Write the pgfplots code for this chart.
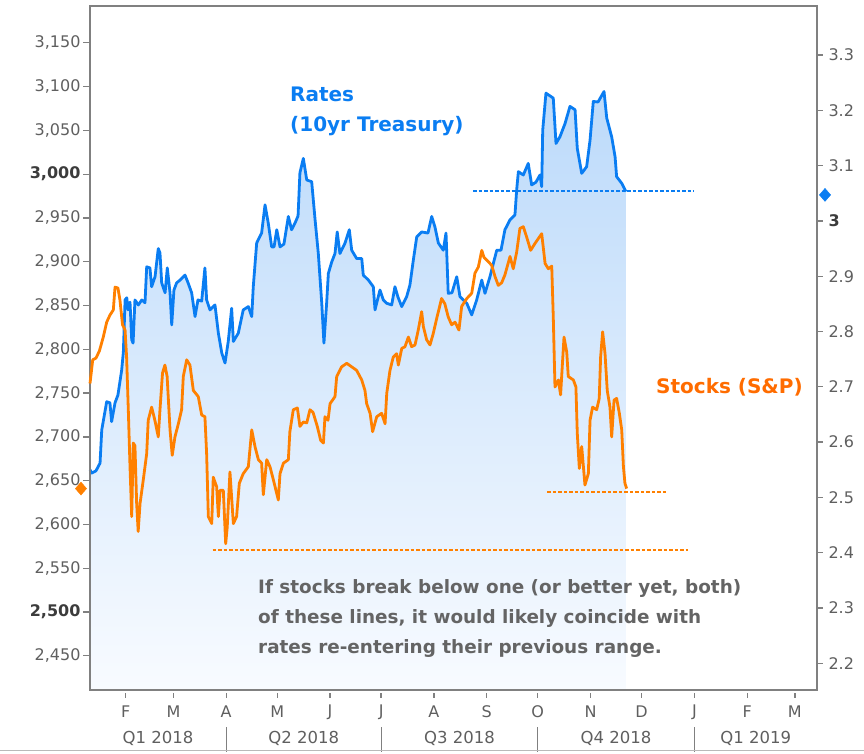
\documentclass[border=0pt]{standalone}
\usepackage{pgfplots}
\pgfplotsset{compat=1.18}
\usepackage{pgfplotstable}
\usepackage{fontspec}
\setmainfont{DejaVu Sans}
\definecolor{rblue}{RGB}{10,125,242}
\definecolor{sorange}{RGB}{255,128,0}
\definecolor{lorange}{RGB}{255,108,0}
\definecolor{axgray}{RGB}{128,128,128}
\definecolor{tickgray}{RGB}{95,95,95}
\definecolor{boldgray}{RGB}{60,60,60}
\definecolor{txtgray}{RGB}{100,100,100}
\definecolor{filltop}{RGB}{188,218,250}
\definecolor{fillbot}{RGB}{248,251,255}

\pgfplotstableread{
d r
10.0 2.550
11.0 2.544
13.5 2.548
15.9 2.562
16.9 2.622
19.8 2.673
21.7 2.671
22.7 2.637
24.7 2.671
26.4 2.685
28.6 2.730
29.6 2.763
30.6 2.857
31.6 2.861
32.3 2.839
33.5 2.853
34.5 2.785
35.3 2.779
36.4 2.857
38.4 2.848
40.4 2.857
42.3 2.852
43.3 2.917
45.2 2.915
46.2 2.881
48.2 2.899
50.1 2.950
51.1 2.942
52.1 2.888
54.1 2.870
55.4 2.915
57.0 2.870
58.0 2.812
59.3 2.875
60.9 2.888
62.9 2.893
65.8 2.902
67.6 2.888
69.7 2.870
71.7 2.827
73.4 2.857
75.6 2.855
77.5 2.915
78.5 2.857
80.5 2.839
83.4 2.848
85.4 2.797
87.4 2.761
89.3 2.743
91.2 2.782
93.2 2.842
94.2 2.782
97.1 2.797
100.0 2.839
103.0 2.845
105.0 2.827
105.9 2.881
107.9 2.960
110.8 2.978
112.8 3.029
114.7 2.996
116.7 2.953
118.1 2.953
119.7 2.984
121.6 2.953
123.9 2.958
126.5 3.008
128.4 2.984
130.4 2.996
132.2 3.009
133.3 3.087
135.3 3.113
137.3 3.074
140.2 3.071
142.2 3.002
144.1 2.941
146.1 2.852
147.4 2.779
149.0 2.852
150.0 2.905
152.0 2.926
153.9 2.941
155.2 2.980
156.8 2.941
159.8 2.960
162.3 2.984
163.7 2.947
166.6 2.932
169.6 2.932
170.5 2.902
173.5 2.893
176.4 2.881
177.4 2.839
180.3 2.875
182.3 2.857
184.3 2.851
187.2 2.848
189.1 2.881
190.9 2.862
193.1 2.845
196.0 2.863
197.9 2.884
199.9 2.929
201.9 2.971
204.8 2.980
208.5 2.978
210.7 3.008
212.6 2.989
214.6 2.960
217.5 2.947
219.1 2.978
220.4 2.869
222.6 2.870
225.4 2.899
227.3 2.863
231.3 2.851
234.2 2.830
237.1 2.857
240.1 2.893
242.0 2.869
244.9 2.899
248.9 2.947
251.4 2.947
253.7 2.984
256.7 3.002
259.6 3.011
260.6 3.056
261.6 3.089
264.5 3.083
267.4 3.104
269.4 3.065
271.9 3.070
274.3 3.083
275.3 3.062
275.9 3.164
277.8 3.231
280.2 3.226
282.1 3.222
283.7 3.140
286.0 3.152
289.0 3.176
291.9 3.207
294.9 3.201
296.2 3.131
298.8 3.086
301.7 3.098
303.7 3.146
305.6 3.216
308.4 3.215
311.9 3.234
313.5 3.186
316.4 3.152
318.4 3.116
319.3 3.080
322.3 3.068
324.8 3.053
}\rates

\pgfplotstableread{
d s
10.0 2761
11.6 2788
13.5 2790
15.5 2798
17.8 2814
19.8 2831
21.7 2839
23.7 2845
24.7 2871
26.4 2870
27.6 2856
29.1 2828
30.6 2822
31.5 2791
32.5 2731
33.5 2666
34.5 2609
35.4 2693
36.4 2690
37.4 2624
38.3 2592
39.4 2624
41.3 2651
43.3 2681
44.2 2719
46.2 2734
48.1 2719
50.1 2700
51.1 2731
52.6 2773
54.0 2782
55.3 2769
57.0 2708
58.3 2679
59.9 2700
61.9 2715
63.8 2731
64.8 2769
66.8 2788
68.7 2782
70.7 2753
73.6 2746
75.6 2725
77.5 2723
78.5 2681
79.5 2609
81.5 2601
82.4 2654
84.4 2643
85.4 2609
86.4 2639
88.3 2639
89.7 2578
90.6 2597
92.2 2660
94.2 2601
96.1 2609
97.7 2647
100.0 2658
103.0 2666
105.0 2708
106.9 2689
108.9 2674
110.8 2670
111.8 2634
113.8 2674
115.7 2666
117.7 2651
120.6 2628
121.6 2658
123.6 2670
126.5 2674
127.4 2706
129.4 2731
131.8 2733
133.3 2712
135.3 2717
137.3 2716
139.2 2731
141.0 2728
143.5 2712
145.5 2696
147.1 2693
148.0 2723
149.8 2719
151.0 2738
153.9 2746
154.9 2769
157.8 2780
160.8 2784
163.7 2780
166.6 2776
169.6 2765
171.5 2753
172.5 2738
174.5 2727
176.0 2706
178.4 2723
181.3 2727
183.3 2715
184.3 2750
186.2 2776
188.1 2791
190.1 2795
191.1 2782
193.1 2801
195.0 2803
197.0 2814
198.9 2803
200.9 2805
202.8 2822
204.8 2843
205.8 2826
207.7 2811
209.7 2805
211.6 2818
213.6 2835
216.5 2858
218.4 2852
220.4 2837
222.4 2828
224.4 2831
226.7 2822
228.3 2849
231.3 2858
234.2 2864
236.1 2887
238.1 2894
240.1 2913
241.4 2905
243.0 2902
245.9 2896
247.9 2883
249.8 2873
251.8 2876
253.7 2885
256.7 2906
258.6 2892
260.6 2911
262.5 2938
264.5 2940
266.5 2928
268.8 2913
271.4 2921
275.3 2932
277.3 2898
279.2 2892
281.2 2895
282.1 2837
283.1 2757
285.1 2765
286.4 2748
288.4 2814
290.0 2797
290.9 2769
293.9 2765
295.4 2757
296.2 2704
297.4 2664
298.8 2689
300.7 2645
302.7 2658
303.7 2719
305.2 2734
307.6 2731
309.1 2744
309.9 2791
311.1 2820
312.5 2795
313.8 2753
315.4 2734
316.4 2700
317.8 2742
319.3 2744
320.9 2727
322.3 2708
323.3 2666
324.2 2647
325.2 2641
}\stocks

\tikzset{
  yl/.style={axgray, line width=1.3pt},
}
\begin{document}
\begin{tikzpicture}
\pgfplotsset{common/.style={
  scale only axis, width=727pt, height=684pt,
  xmin=10, xmax=437, at={(0,0)}, anchor=south west, clip=false,
  axis line style={axgray, line width=1.5pt},
  major tick length=0pt,
  tick label style={font=\fontsize{16}{19}\selectfont, text=tickgray},
  /pgf/number format/assume math mode=true,
}}
% ---- rates (right axis)
\begin{axis}[common,
  ymin=2.1517, ymax=3.3886,
  axis x line=none, axis y line*=right,
  ytick={2.2,2.3,2.4,2.5,2.6,2.7,2.8,2.9,3,3.1,3.2,3.3},
  yticklabels={2.2,2.3,2.4,2.5,2.6,2.7,2.8,2.9,\textcolor{boldgray}{\textbf{3}},3.1,3.2,3.3},
  yticklabel style={anchor=west, xshift=8pt},
]
\addplot[draw=none, top color=filltop, bottom color=fillbot] table[x=d,y=r]{\rates} |- (rel axis cs:0,0) -- cycle;
\addplot[rblue, line width=2.8pt, line join=round] table[x=d,y=r]{\rates};
\addplot[rblue, line width=1.3pt, dash pattern=on 3.5pt off 2pt] coordinates {(235,3.054) (365,3.054)};
\addplot[only marks, mark=diamond*, mark size=6.5pt, mark options={solid, xscale=1.15}, rblue] coordinates {(441.7,3.047)};
\draw[yl] (axis cs:437,2.2) -- (axis cs:440.5,2.2);
\draw[yl] (axis cs:437,2.3) -- (axis cs:440.5,2.3);
\draw[yl] (axis cs:437,2.4) -- (axis cs:440.5,2.4);
\draw[yl] (axis cs:437,2.5) -- (axis cs:440.5,2.5);
\draw[yl] (axis cs:437,2.6) -- (axis cs:440.5,2.6);
\draw[yl] (axis cs:437,2.7) -- (axis cs:440.5,2.7);
\draw[yl] (axis cs:437,2.8) -- (axis cs:440.5,2.8);
\draw[yl] (axis cs:437,2.9) -- (axis cs:440.5,2.9);
\draw[yl] (axis cs:437,3.0) -- (axis cs:440.5,3.0);
\draw[yl] (axis cs:437,3.1) -- (axis cs:440.5,3.1);
\draw[yl] (axis cs:437,3.2) -- (axis cs:440.5,3.2);
\draw[yl] (axis cs:437,3.3) -- (axis cs:440.5,3.3);
\end{axis}
% ---- stocks (left axis)
\begin{axis}[common,
  ymin=2411, ymax=3192,
  ytick pos=left, xtick pos=left,
  ytick={2450,2500,2550,2600,2650,2700,2750,2800,2850,2900,2950,3000,3050,3100,3150},
  yticklabels={{2,450},{\textcolor{boldgray}{\textbf{2,500}}},{2,550},{2,600},{2,650},{2,700},{2,750},{2,800},{2,850},{2,900},{2,950},{\textcolor{boldgray}{\textbf{3,000}}},{3,050},{3,100},{3,150}},
  xtick={31,59,90,120,151,181,212,243,273,304,334,365,396,424},
  xticklabels={F,M,A,M,J,J,A,S,O,N,D,J,F,M},
  yticklabel style={anchor=east, xshift=-6pt},
  xticklabel style={anchor=center, yshift=-22pt},
]
\addplot[sorange, line width=2.8pt, line join=round] table[x=d,y=s]{\stocks};
\addplot[sorange, line width=1.3pt, dash pattern=on 3.5pt off 2pt] coordinates {(278.6,2637) (348.7,2637)};
\addplot[sorange, line width=1.3pt, dash pattern=on 3.5pt off 2pt] coordinates {(82,2571) (361.5,2571)};
\addplot[only marks, mark=diamond*, mark size=6.5pt, mark options={solid, xscale=1.15}, sorange] coordinates {(4.7,2641)};
\draw[yl] (axis cs:5.9,2450) -- (axis cs:10,2450);
\draw[yl] (axis cs:5.9,2500) -- (axis cs:10,2500);
\draw[yl] (axis cs:5.9,2550) -- (axis cs:10,2550);
\draw[yl] (axis cs:5.9,2600) -- (axis cs:10,2600);
\draw[yl] (axis cs:5.9,2650) -- (axis cs:10,2650);
\draw[yl] (axis cs:5.9,2700) -- (axis cs:10,2700);
\draw[yl] (axis cs:5.9,2750) -- (axis cs:10,2750);
\draw[yl] (axis cs:5.9,2800) -- (axis cs:10,2800);
\draw[yl] (axis cs:5.9,2850) -- (axis cs:10,2850);
\draw[yl] (axis cs:5.9,2900) -- (axis cs:10,2900);
\draw[yl] (axis cs:5.9,2950) -- (axis cs:10,2950);
\draw[yl] (axis cs:5.9,3000) -- (axis cs:10,3000);
\draw[yl] (axis cs:5.9,3050) -- (axis cs:10,3050);
\draw[yl] (axis cs:5.9,3100) -- (axis cs:10,3100);
\draw[yl] (axis cs:5.9,3150) -- (axis cs:10,3150);
\draw[yl] (axis cs:31,2411) ++(0pt,-3pt) -- ++(0pt,-5pt);
\draw[yl] (axis cs:59,2411) ++(0pt,-3pt) -- ++(0pt,-5pt);
\draw[yl] (axis cs:90,2411) ++(0pt,-3pt) -- ++(0pt,-5pt);
\draw[yl] (axis cs:120,2411) ++(0pt,-3pt) -- ++(0pt,-5pt);
\draw[yl] (axis cs:151,2411) ++(0pt,-3pt) -- ++(0pt,-5pt);
\draw[yl] (axis cs:181,2411) ++(0pt,-3pt) -- ++(0pt,-5pt);
\draw[yl] (axis cs:212,2411) ++(0pt,-3pt) -- ++(0pt,-5pt);
\draw[yl] (axis cs:243,2411) ++(0pt,-3pt) -- ++(0pt,-5pt);
\draw[yl] (axis cs:273,2411) ++(0pt,-3pt) -- ++(0pt,-5pt);
\draw[yl] (axis cs:304,2411) ++(0pt,-3pt) -- ++(0pt,-5pt);
\draw[yl] (axis cs:334,2411) ++(0pt,-3pt) -- ++(0pt,-5pt);
\draw[yl] (axis cs:365,2411) ++(0pt,-3pt) -- ++(0pt,-5pt);
\draw[yl] (axis cs:396,2411) ++(0pt,-3pt) -- ++(0pt,-5pt);
\draw[yl] (axis cs:424,2411) ++(0pt,-3pt) -- ++(0pt,-5pt);
\draw[axgray, line width=1pt] (axis cs:90,2411) ++(0pt,-37pt) -- ++(0pt,-25pt);
\draw[axgray, line width=1pt] (axis cs:181,2411) ++(0pt,-37pt) -- ++(0pt,-25pt);
\draw[axgray, line width=1pt] (axis cs:273,2411) ++(0pt,-37pt) -- ++(0pt,-25pt);
\draw[axgray, line width=1pt] (axis cs:365,2411) ++(0pt,-37pt) -- ++(0pt,-25pt);
\node[font=\fontsize{16.5}{19}\selectfont, text=tickgray, yshift=-48pt] at (axis cs:50,2411) {Q1 2018};
\node[font=\fontsize{16.5}{19}\selectfont, text=tickgray, yshift=-48pt] at (axis cs:135.5,2411) {Q2 2018};
\node[font=\fontsize{16.5}{19}\selectfont, text=tickgray, yshift=-48pt] at (axis cs:227,2411) {Q3 2018};
\node[font=\fontsize{16.5}{19}\selectfont, text=tickgray, yshift=-48pt] at (axis cs:319,2411) {Q4 2018};
\node[font=\fontsize{16.5}{19}\selectfont, text=tickgray, yshift=-48pt] at (axis cs:401,2411) {Q1 2019};
\end{axis}
\draw[gray!55, line width=1pt] (-90pt,-60pt) -- (774pt,-60pt);
\node[anchor=base west, font=\fontsize{20}{24}\selectfont\bfseries, text=rblue, inner sep=0pt] at (200pt,588pt) {Rates};
\node[anchor=base west, font=\fontsize{20}{24}\selectfont\bfseries, text=rblue, inner sep=0pt] at (200pt,558pt) {(10yr Treasury)};
\node[anchor=base west, font=\fontsize{20}{24}\selectfont\bfseries, text=lorange, inner sep=0pt] at (566pt,296pt) {Stocks (S\&P)};
\node[anchor=base west, font=\fontsize{18.4}{22}\selectfont\bfseries, text=txtgray, inner sep=0pt] at (168pt,97pt) {If stocks break below one (or better yet, both)};
\node[anchor=base west, font=\fontsize{18.4}{22}\selectfont\bfseries, text=txtgray, inner sep=0pt] at (168pt,67pt) {of these lines, it would likely coincide with};
\node[anchor=base west, font=\fontsize{18.4}{22}\selectfont\bfseries, text=txtgray, inner sep=0pt] at (168pt,37pt) {rates re-entering their previous range.};
\pgfresetboundingbox
\path[use as bounding box] (-90pt,-63pt) rectangle (774pt,690pt);
\end{tikzpicture}
\end{document}
